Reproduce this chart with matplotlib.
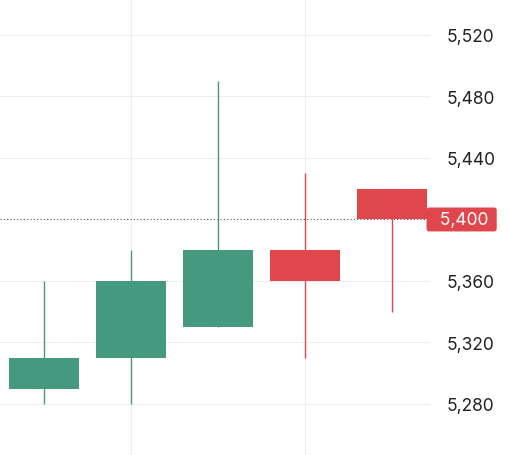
import matplotlib.pyplot as plt
from matplotlib.ticker import FuncFormatter

plt.rcParams['font.family'] = ['Inter', 'DejaVu Sans']

# OHLC data
opens = [5290, 5310, 5330, 5380, 5420]
highs = [5360, 5380, 5490, 5430, 5420]
lows = [5280, 5280, 5330, 5310, 5340]
closes = [5310, 5360, 5380, 5360, 5400]
last_price = 5400
yticks = [5280, 5320, 5360, 5440, 5480, 5520]

up_col = '#44997F'
down_col = '#E0474C'

fig = plt.figure(figsize=(5.1, 4.56), dpi=100)
ax = fig.add_axes([0, 0, 430 / 510, 1])

for i, (o, h, l, c) in enumerate(zip(opens, highs, lows, closes)):
    col = up_col if c >= o else down_col
    ax.vlines(i, l, h, color=col, lw=1, zorder=3)
    ax.bar(i, abs(c - o), bottom=min(o, c), width=0.8, color=col, zorder=4)

ax.axhline(last_price, color='#555555', lw=0.8, ls=(0, (1, 2)), zorder=2)

ax.set_xlim(-0.506, 4.437)
ax.set_ylim(5246.8, 5543.4)
ax.set_yticks(yticks)
ax.yaxis.set_major_formatter(FuncFormatter(lambda v, p: f'{v:,.0f}'))
ax.yaxis.tick_right()
ax.tick_params(axis='y', length=0, pad=12, labelsize=12.5, labelcolor='#222222')
ax.set_xticks([1, 3])
ax.tick_params(axis='x', length=0, labelbottom=False)
ax.grid(True, color='#EEEEEE', lw=0.8, zorder=0)
for s in ax.spines.values():
    s.set_visible(False)

ax.text(1.0, last_price, f'  {last_price:,} ', transform=ax.get_yaxis_transform(),
        ha='left', va='center', color='white', fontsize=12.5,
        bbox=dict(boxstyle='round,pad=0.2,rounding_size=0.15', fc=down_col, ec='none'),
        zorder=5, clip_on=False)

fig.savefig('out.png', dpi=100)
